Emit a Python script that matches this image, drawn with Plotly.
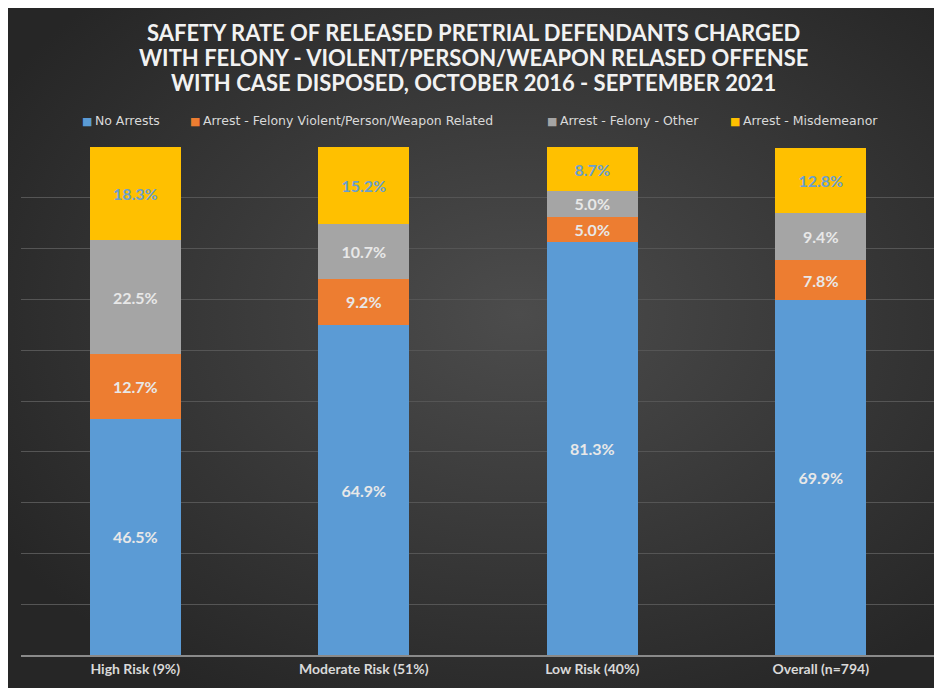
import plotly.graph_objects as go

categories = ["High Risk (9%)", "Moderate Risk (51%)", "Low Risk (40%)", "Overall (n=794)"]
no_arrests = [46.5, 64.9, 81.3, 69.9]
felony_violent = [12.7, 9.2, 5.0, 7.8]
felony_other = [22.5, 10.7, 5.0, 9.4]
misdemeanor = [18.3, 15.2, 8.7, 12.8]
series_names = ["No Arrests", "Arrest - Felony Violent/Person/Weapon Related",
                "Arrest - Felony - Other", "Arrest - Misdemeanor"]
title_lines = ["SAFETY RATE OF RELEASED PRETRIAL DEFENDANTS CHARGED",
               "WITH FELONY - VIOLENT/PERSON/WEAPON RELASED OFFENSE",
               "WITH CASE DISPOSED, OCTOBER 2016 - SEPTEMBER 2021"]

colors = ["#5B9BD5", "#ED7D31", "#A5A5A5", "#FFC000"]
text_colors = ["#E8E8E8", "#E8E8E8", "#E8E8E8", "#6A9FD0"]
values = [no_arrests, felony_violent, felony_other, misdemeanor]

W, H = 930, 680
L, R, T, B = 13, 3, 139, 33
PW, PH = W - L - R, H - T - B

fig = go.Figure()
for name, vals, color, tcolor in zip(series_names, values, colors, text_colors):
    fig.add_trace(go.Bar(
        name=name, x=categories, y=vals,
        marker=dict(color=color, line=dict(width=0)),
        text=[f"{v:.1f}%" for v in vals],
        textposition="inside", insidetextanchor="middle",
        textfont=dict(color=tcolor, size=16, family="Lato", weight="bold"),
        constraintext="none",
        hoverinfo="skip",
        showlegend=False,
    ))

annotations = []
for line, yfig in zip(title_lines, [25, 49, 74]):
    annotations.append(dict(
        text=line, xref="paper", yref="paper",
        x=(W / 2 - L) / PW, y=(H - B - yfig) / PH,
        xanchor="center", yanchor="middle", showarrow=False,
        font=dict(family="Lato", size=22, color="#F2F2F2", weight="bold"),
    ))

legend_x = [72, 180, 537, 720]
for name, color, xf in zip(series_names, colors, legend_x):
    annotations.append(dict(
        text=f'<span style="color:{color};font-size:11px">■</span>\u2009{name}',
        xref="paper", yref="paper",
        x=(xf - L) / PW, y=(H - B - 112) / PH,
        xanchor="left", yanchor="middle", showarrow=False,
        font=dict(family="DejaVu Sans", size=12.5, color="#D9D9D9"),
    ))

bg_svg = (
    "data:image/svg+xml;utf8,"
    "<svg xmlns='http://www.w3.org/2000/svg' width='930' height='680'>"
    "<defs><radialGradient id='g' cx='55%25' cy='45%25' r='65%25'>"
    "<stop offset='0%25' stop-color='%234c4c4c'/>"
    "<stop offset='100%25' stop-color='%23262626'/>"
    "</radialGradient></defs>"
    "<rect width='930' height='680' fill='url(%23g)'/></svg>"
)

fig.update_layout(
    barmode="stack",
    bargap=0.6,
    width=W, height=H,
    margin=dict(l=L, r=R, t=T, b=B),
    paper_bgcolor="#363636",
    plot_bgcolor="rgba(0,0,0,0)",
    showlegend=False,
    annotations=annotations,
    images=[dict(
        source=bg_svg, xref="paper", yref="paper",
        x=-L / PW, y=1 + T / PH, sizex=W / PW, sizey=H / PH,
        xanchor="left", yanchor="top", sizing="stretch", layer="below",
    )],
)
fig.update_xaxes(
    showgrid=False, showline=True, linecolor="#8A8A8A", linewidth=2,
    tickfont=dict(family="Lato", size=14, color="#D9D9D9", weight="bold"),
    ticks="", fixedrange=True,
)
fig.update_yaxes(
    range=[0, 100], dtick=10, showgrid=True, gridcolor="#555555", gridwidth=1,
    showticklabels=False, zeroline=False, fixedrange=True,
)

fig.write_html("out.html")
